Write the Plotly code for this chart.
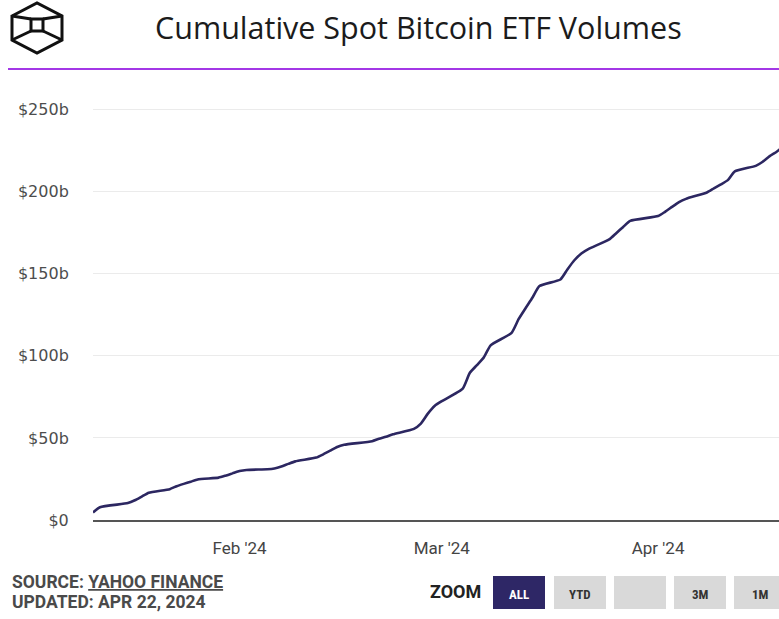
import plotly.graph_objects as go

# ---------------- data ----------------
dates = [
    "2024-01-11", "2024-01-12", "2024-01-16", "2024-01-17", "2024-01-18", "2024-01-19",
    "2024-01-22", "2024-01-23", "2024-01-24", "2024-01-25", "2024-01-26",
    "2024-01-29", "2024-01-30", "2024-01-31", "2024-02-01", "2024-02-02",
    "2024-02-05", "2024-02-06", "2024-02-07", "2024-02-08", "2024-02-09",
    "2024-02-12", "2024-02-13", "2024-02-14", "2024-02-15", "2024-02-16",
    "2024-02-20", "2024-02-21", "2024-02-22", "2024-02-23",
    "2024-02-26", "2024-02-27", "2024-02-28", "2024-02-29", "2024-03-01",
    "2024-03-04", "2024-03-05", "2024-03-06", "2024-03-07", "2024-03-08",
    "2024-03-11", "2024-03-12", "2024-03-13", "2024-03-14", "2024-03-15",
    "2024-03-18", "2024-03-19", "2024-03-20", "2024-03-21", "2024-03-22",
    "2024-03-25", "2024-03-26", "2024-03-27", "2024-03-28",
    "2024-04-01", "2024-04-02", "2024-04-03", "2024-04-04", "2024-04-05",
    "2024-04-08", "2024-04-09", "2024-04-10", "2024-04-11", "2024-04-12",
    "2024-04-15", "2024-04-16", "2024-04-17", "2024-04-18", "2024-04-19",
    "2024-04-22",
]
cumulative_volume_b = [
    4.6, 7.8, 10.3, 12.0, 14.3, 16.6,
    18.8, 20.6, 22.0, 23.3, 24.7,
    25.8, 27.0, 28.4, 29.8, 30.5,
    30.9, 31.4, 32.6, 34.2, 35.7,
    38.0, 40.0, 42.2, 44.5, 45.8,
    48.0, 49.5, 50.7, 52.2,
    55.5, 58.7, 64.8, 69.6, 72.4,
    80.0, 89.5, 94.2, 98.9, 106.4,
    114.0, 122.3, 129.0, 135.5, 142.5,
    146.5, 152.6, 158.2, 162.3, 165.0,
    170.9, 174.7, 178.5, 182.2,
    185.1, 187.7, 190.7, 193.6, 195.6,
    199.5, 202.0, 204.4, 207.0, 212.3,
    215.7, 218.2, 221.6, 224.3, 227.5,
    230.5,
]
y_tick_values = [0, 50, 100, 150, 200, 250]
y_tick_labels = ["$0", "$50b", "$100b", "$150b", "$200b", "$250b"]
x_tick_values = ["2024-02-01", "2024-03-01", "2024-04-01"]
x_tick_labels = ["Feb '24", "Mar '24", "Apr '24"]
zoom_buttons = ["ALL", "YTD", "", "3M", "1M"]

title_text = "Cumulative Spot Bitcoin ETF Volumes"
source_text = "SOURCE: <u>YAHOO FINANCE</u>"
updated_text = "UPDATED: APR 22, 2024"

# ---------------- geometry helpers ----------------
W, H = 779, 619
PL, PR, PT, PB = 93, 779, 100, 520


def px(x):
    return (x - PL) / (PR - PL)


def py(y):
    return (PB - y) / (PB - PT)


def path(points, close=False):
    s = "M " + " L ".join(f"{px(x):.5f},{py(y):.5f}" for x, y in points)
    return s + (" Z" if close else "")


COND = "Roboto Condensed, Liberation Sans Narrow, Roboto, sans-serif"
TEXT = "Roboto, sans-serif"

fig = go.Figure()
fig.add_trace(go.Scatter(
    x=dates, y=cumulative_volume_b, mode="lines",
    line=dict(color="#2c2761", width=2.6, shape="spline", smoothing=0.5),
    hoverinfo="skip", showlegend=False,
))

shapes = []
# purple header rule
shapes.append(dict(type="line", xref="paper", yref="paper",
                   x0=px(8), x1=px(779), y0=py(69), y1=py(69),
                   line=dict(color="#a337e6", width=2)))
# logo
logo_style = dict(type="path", xref="paper", yref="paper",
                  line=dict(color="#111111", width=3))
hexagon = [(12, 16), (37, 3), (62, 16), (62, 40), (37, 53), (12, 40)]
square = [(31, 19), (43, 19), (43, 31), (31, 31)]
shapes.append(dict(path=path(hexagon, True), **logo_style))
shapes.append(dict(path=path(square, True), **logo_style))
for a, b in [((12, 16), (31, 19)), ((62, 16), (43, 19)),
             ((12, 40), (31, 31)), ((62, 40), (43, 31))]:
    shapes.append(dict(path=path([a, b]), **logo_style))

# zoom buttons
btn_x0 = [493, 554, 614, 674, 734]
annotations = []
for i, lab in enumerate(zoom_buttons):
    x0 = btn_x0[i]
    x1 = x0 + 52
    active = i == 0
    shapes.append(dict(type="rect", xref="paper", yref="paper",
                       x0=px(x0), x1=px(x1), y0=py(609), y1=py(576),
                       fillcolor="#2e2766" if active else "#d9d9d9",
                       line=dict(width=0), layer="above"))
    if lab:
        annotations.append(dict(
            x=px((x0 + x1) / 2), y=py(594), xref="paper", yref="paper",
            text=f"<b>{lab}</b>", showarrow=False, xanchor="center", yanchor="middle",
            font=dict(family=COND, size=13, color="#ffffff" if active else "#333333")))

annotations += [
    dict(x=px(418), y=py(27), xref="paper", yref="paper", text=title_text,
         showarrow=False, xanchor="center", yanchor="middle",
         font=dict(family="Open Sans, Noto Sans, sans-serif", size=30.5, color="#1b1b1b")),
    dict(x=px(10), y=py(582), xref="paper", yref="paper", text=f"<b>{source_text}</b>",
         showarrow=False, xanchor="left", yanchor="middle",
         font=dict(family=TEXT, size=17.5, color="#4a4a4a")),
    dict(x=px(10), y=py(602), xref="paper", yref="paper", text=f"<b>{updated_text}</b>",
         showarrow=False, xanchor="left", yanchor="middle",
         font=dict(family=TEXT, size=17.5, color="#4a4a4a")),
    dict(x=px(483), y=py(591), xref="paper", yref="paper", text="<b>ZOOM</b>",
         showarrow=False, xanchor="right", yanchor="middle",
         font=dict(family=TEXT, size=18, color="#222222")),
]

fig.update_layout(
    width=W, height=H,
    margin=dict(l=PL, r=W - PR, t=PT, b=H - PB, pad=0),
    paper_bgcolor="#ffffff", plot_bgcolor="#ffffff",
    shapes=shapes, annotations=annotations,
    xaxis=dict(
        type="date", range=["2024-01-11 00:00", "2024-04-18 08:00"],
        tickmode="array", tickvals=x_tick_values, ticktext=x_tick_labels,
        showgrid=False, zeroline=False,
        showline=True, linecolor="#555555", linewidth=2,
        ticks="outside", ticklen=12, tickcolor="rgba(0,0,0,0)",
        tickfont=dict(family=TEXT, size=17, color="#444444"),
        fixedrange=True,
    ),
    yaxis=dict(
        range=[0, 255.8],
        tickmode="array", tickvals=y_tick_values, ticktext=y_tick_labels,
        showgrid=True, gridcolor="#ebebeb", gridwidth=1,
        zeroline=False, showline=False,
        ticks="outside", ticklen=20, tickcolor="rgba(0,0,0,0)",
        tickfont=dict(family="DejaVu Sans, Verdana, sans-serif", size=16, color="#4d4d4d"),
        fixedrange=True,
    ),
)

fig.write_html("out.html", config={"displayModeBar": False},
               post_script="document.body.style.margin='0';")
